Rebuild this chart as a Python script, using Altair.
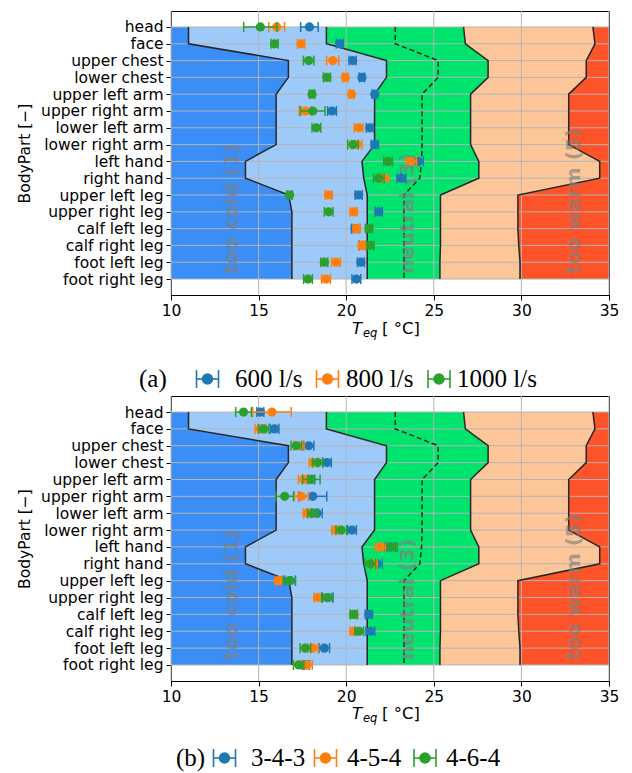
import json
import altair as alt
import pandas as pd

# ---------------- data ----------------
PARTS = ["head", "face", "upper chest", "lower chest", "upper left arm",
         "upper right arm", "lower left arm", "lower right arm", "left hand",
         "right hand", "upper left leg", "upper right leg", "calf left leg",
         "calf right leg", "foot left leg", "foot right leg"]
ROWS = list(range(len(PARTS)))
X_TICKS = [10, 15, 20, 25, 30, 35]

# comfort zone boundaries (deg C) per body part
COLD = [11.0, 11.0, 16.7, 16.7, 16.0, 16.0, 16.0, 16.0, 14.25, 14.25, 16.72, 16.9, 16.9, 16.9, 16.9, 16.9]
COOL = [18.87, 18.87, 22.3, 22.3, 21.62, 21.62, 21.62, 21.62, 20.9, 21.0, 21.2, 21.2, 21.2, 21.2, 21.2, 21.2]
MID = [22.8, 22.8, 25.25, 25.25, 24.33, 24.33, 24.33, 24.33, 24.3, 24.2, 23.3, 23.3, 23.3, 23.3, 23.3, 23.3]
WARM = [26.7, 26.8, 28.1, 28.1, 27.1, 27.1, 27.1, 27.1, 27.57, 27.57, 25.38, 25.38, 25.38, 25.38, 25.35, 25.35]
HOT = [34.08, 34.2, 33.7, 33.7, 32.7, 32.7, 32.7, 32.7, 34.47, 34.47, 29.8, 29.8, 29.8, 29.85, 29.92, 29.92]

# panel (a)
A_NAMES = ["600 l/s", "800 l/s", "1000 l/s"]
A_600 = [17.9, 19.63, 20.37, 20.9, 21.63, 19.19, 21.35, 21.63, 24.1, 23.15, 20.71, 21.86, 20.5, 20.95, 20.84, 20.58]
A_600_ERR = [0.5, 0.2, 0.2, 0.15, 0.15, 0.25, 0.2, 0.2, 0.3, 0.25, 0.2, 0.2, 0.2, 0.2, 0.2, 0.25]
A_800 = [16.03, 17.42, 19.23, 19.95, 20.3, 17.67, 20.71, 20.6, 23.72, 22.14, 19.0, 20.43, 20.6, 20.9, 19.42, 18.85]
A_800_ERR = [0.45, 0.2, 0.35, 0.15, 0.15, 0.35, 0.25, 0.3, 0.3, 0.3, 0.2, 0.2, 0.2, 0.2, 0.25, 0.25]
A_1000 = [15.1, 15.91, 17.86, 18.9, 18.05, 18.09, 18.3, 20.39, 22.39, 21.86, 16.77, 19.0, 21.3, 21.38, 18.75, 17.82]
A_1000_ERR = [0.95, 0.2, 0.3, 0.2, 0.15, 0.7, 0.25, 0.3, 0.25, 0.3, 0.15, 0.25, 0.2, 0.2, 0.2, 0.25]

# panel (b)
B_NAMES = ["3-4-3", "4-5-4", "4-6-4"]
B_343 = [15.1, 15.91, 17.86, 18.9, 18.0, 18.09, 18.33, 20.33, 22.52, 21.76, 16.8, 18.95, 21.29, 21.38, 18.75, 17.7]
B_343_ERR = [0.2, 0.25, 0.3, 0.25, 0.2, 0.8, 0.3, 0.25, 0.3, 0.3, 0.3, 0.3, 0.2, 0.25, 0.3, 0.2]
B_454 = [15.76, 15.1, 17.3, 18.14, 17.57, 17.44, 17.76, 19.38, 21.95, 21.57, 16.14, 18.37, 20.45, 20.43, 18.09, 17.76]
B_454_ERR = [1.1, 0.3, 0.3, 0.25, 0.3, 0.4, 0.2, 0.2, 0.3, 0.2, 0.2, 0.2, 0.2, 0.2, 0.3, 0.3]
B_464 = [14.14, 15.29, 17.15, 18.37, 18.01, 16.49, 18.1, 19.72, 22.62, 21.38, 16.75, 18.9, 20.43, 20.75, 17.67, 17.29]
B_464_ERR = [0.45, 0.3, 0.3, 0.3, 0.5, 0.5, 0.3, 0.3, 0.3, 0.3, 0.35, 0.3, 0.2, 0.25, 0.3, 0.3]

ZONE_TEXT = ["too cold (1)", "neutral (3)", "too warm (5)"]
ZONE_X = [13.5, 23.55, 33.0]
ZONE_Y = [14.7, 14.7, 14.7]

# ---------------- styling ----------------
SANS = "DejaVu Sans, Noto Sans, sans-serif"
SERIF = "Liberation Serif"
SERIES_COLORS = ["#1f77b4", "#ff7f0e", "#2ca02c"]
ZONE_COLORS = ["#3b8ef5", "#9ecafa", "#00e46e", "#fdc698", "#fe5328"]
GRID = "#b4b4b4"
EDGE = "#262626"
W = 438
FS = 15.5

X_SCALE = alt.Scale(domain=[10, 35], nice=False, zero=False)
Y_SCALE = alt.Scale(domain=[-0.95, 15.95], reverse=True, nice=False, zero=False)
LABEL_EXPR = json.dumps(PARTS) + "[datum.value]"


def xenc(f):
    return alt.X(f"{f}:Q", scale=X_SCALE,
                 axis=alt.Axis(values=X_TICKS, title=None, grid=False, labelPadding=3,
                               labelFlush=False, labelOverlap=False,
                               labelFont=SANS, labelFontSize=FS))


def yenc(f):
    return alt.Y(f"{f}:Q", scale=Y_SCALE,
                 axis=alt.Axis(values=ROWS, labelExpr=LABEL_EXPR, title="BodyPart [−]",
                               grid=False, labelPadding=3, titlePadding=8,
                               labelOverlap=False, labelBound=False, labelFlush=False,
                               labelFont=SANS, labelFontSize=FS,
                               titleFont=SANS, titleFontSize=FS, titleFontWeight="normal"))


ONE = alt.Data(values=[{"k": 0}])


def deco_text(txt, x, y, size, font=SANS, style="normal", align="left"):
    return alt.Chart(ONE).mark_text(text=txt, font=font, fontSize=size, fontStyle=style,
                                    align=align, baseline="middle", color="black").encode(
        x=alt.value(x), y=alt.value(y))


def legend_icon(cx, y, color):
    items = []
    items.append(alt.Chart(ONE).mark_rule(color=color, strokeWidth=1.6).encode(
        x=alt.value(cx - 11), x2=alt.value(cx + 11), y=alt.value(y)))
    for dx in (-11, 11):
        items.append(alt.Chart(ONE).mark_rule(color=color, strokeWidth=1.6).encode(
            x=alt.value(cx + dx), y=alt.value(y - 9), y2=alt.value(y + 9)))
    items.append(alt.Chart(ONE).mark_circle(color=color, size=135, opacity=1).encode(
        x=alt.value(cx), y=alt.value(y)))
    return items


zones = pd.DataFrame({"row": ROWS, "lo": [10] * len(ROWS), "cold": COLD, "cool": COOL,
                      "mid": MID, "warm": WARM, "hot": HOT, "hi": [35] * len(ROWS)})


def panel(values, errs, names, tag, H, title_dy, leg):
    layers = []
    bounds = ["lo", "cold", "cool", "warm", "hot", "hi"]
    for i, c in enumerate(ZONE_COLORS):
        layers.append(alt.Chart(zones).mark_area(orient="horizontal", color=c, opacity=1).encode(
            y=yenc("row"), x=xenc(bounds[i]), x2=alt.X2(bounds[i + 1])))
    layers.append(alt.Chart(pd.DataFrame({"t": X_TICKS})).mark_rule(
        color=GRID, strokeWidth=1).encode(x=xenc("t")))
    layers.append(alt.Chart(pd.DataFrame({"row": ROWS})).mark_rule(
        color=GRID, strokeWidth=1).encode(y=yenc("row")))
    for f in ["cold", "cool", "warm", "hot"]:
        layers.append(alt.Chart(zones).mark_line(color=EDGE, strokeWidth=1.5).encode(
            x=xenc(f), y=yenc("row"), order="row:Q"))
    layers.append(alt.Chart(zones).mark_line(color=EDGE, strokeWidth=1.5, strokeDash=[5, 3]).encode(
        x=xenc("mid"), y=yenc("row"), order="row:Q"))
    zdf = pd.DataFrame({"label": ZONE_TEXT, "zx": ZONE_X, "zy": ZONE_Y})
    layers.append(alt.Chart(zdf).mark_text(angle=270, align="left", baseline="middle",
                                           fontSize=20, fontWeight="bold", font=SANS,
                                           color="#808080", opacity=0.65).encode(
        x=xenc("zx"), y=yenc("zy"), text="label:N"))
    for v, e, c in zip(values, errs, SERIES_COLORS):
        df = pd.DataFrame({"row": ROWS, "v": v, "e": e})
        base = alt.Chart(df).transform_calculate(
            lo="datum.v - datum.e", hi="datum.v + datum.e",
            ya="datum.row - 0.3", yb="datum.row + 0.3")
        layers.append(base.mark_rule(color=c, strokeWidth=1.5).encode(
            x=xenc("lo"), x2=alt.X2("hi"), y=yenc("row")))
        layers.append(base.mark_rule(color=c, strokeWidth=1.5).encode(
            x=xenc("lo"), y=yenc("ya"), y2=alt.Y2("yb")))
        layers.append(base.mark_rule(color=c, strokeWidth=1.5).encode(
            x=xenc("hi"), y=yenc("ya"), y2=alt.Y2("yb")))
        layers.append(base.mark_circle(color=c, size=85, opacity=1).encode(
            x=xenc("v"), y=yenc("row")))
    # x axis title  T_eq [°C]
    ty = H + title_dy
    layers.append(deco_text("T", 181, ty, 16.5, style="italic"))
    layers.append(deco_text("eq", 192, ty + 5, 11.5, style="italic"))
    layers.append(deco_text("[ °C]", 211, ty, 16.5))
    # caption legend
    tag_x, ly, icon_x, label_x = leg
    layers.append(deco_text(tag, tag_x, ly, 25, font=SERIF))
    for cx, lx, name, c in zip(icon_x, label_x, names, SERIES_COLORS):
        layers.extend(legend_icon(cx, ly, c))
        layers.append(deco_text(name, lx, ly, 25, font=SERIF))
    return alt.layer(*layers).properties(width=W, height=H)


top = panel([A_600, A_800, A_1000], [A_600_ERR, A_800_ERR, A_1000_ERR], A_NAMES, "(a)",
            284, 34, (-32, 368, [36.5, 156.5, 268], [64, 175, 286]))
bottom = panel([B_343, B_454, B_464], [B_343_ERR, B_454_ERR, B_464_ERR], B_NAMES, "(b)",
               285, 33, (5, 362, [53.5, 154.5, 254], [80, 176, 275]))

chart = alt.vconcat(top, bottom, spacing=101, bounds="flush").properties(
    padding={"left": 17, "top": 10, "right": 5, "bottom": 5}
).configure_view(stroke="black", strokeWidth=1).configure_axis(
    domainColor="black", domainWidth=1, tickColor="black", tickSize=5, tickWidth=1,
    labelColor="black", titleColor="black"
)

chart.save("out.html", embed_options={"renderer": "svg", "actions": False})
